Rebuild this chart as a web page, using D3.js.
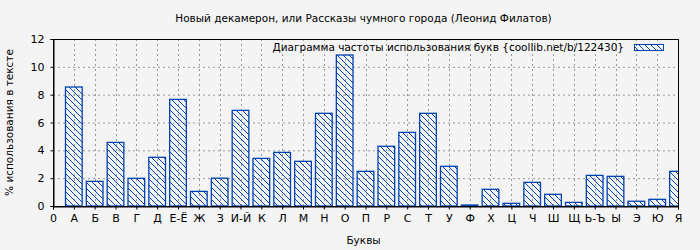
<!DOCTYPE html>
<html><head><meta charset="utf-8">
<script src="https://cdn.jsdelivr.net/npm/d3@7"></script>
<style>body{margin:0;background:#f4f4f4}svg{display:block}</style>
</head><body>
<script>
const categories = ["0","А","Б","В","Г","Д","Е-Ё","Ж","З","И-Й","К","Л","М","Н","О","П","Р","С","Т","У","Ф","Х","Ц","Ч","Ш","Щ","Ь-Ъ","Ы","Э","Ю","Я"];
const values = [0,8.55,1.77,4.57,1.99,3.5,7.66,1.05,2.0,6.87,3.42,3.85,3.21,6.66,10.85,2.49,4.29,5.29,6.66,2.85,0.07,1.2,0.19,1.7,0.84,0.26,2.2,2.13,0.34,0.48,2.49];
const yTicks = [0,2,4,6,8,10,12];
const title = "Новый декамерон, или Рассказы чумного города (Леонид Филатов)";
const legendLabel = "Диаграмма частоты использования букв {coollib.net/b/122430}";
const xLabel = "Буквы";
const yLabel = "% использования в тексте";

const W=700,H=250, L=53, R=678, T=39, B=206;
const blue="#0042b0";
const font="DejaVu Sans, sans-serif";
const fs=10.5;
const svg=d3.select("body").append("svg").attr("width",W).attr("height",H);
svg.append("rect").attr("width",W).attr("height",H).attr("fill","#f4f4f4");
const defs=svg.append("defs");
const pat=defs.append("pattern").attr("id","hatch").attr("patternUnits","userSpaceOnUse")
 .attr("width",6).attr("height",6);
pat.append("path").attr("d","M-1,-1 L7,7 M-1,5 L1,7 M5,-1 L7,1").attr("stroke",blue).attr("stroke-width",1);
defs.append("clipPath").attr("id","clip").append("rect").attr("x",L).attr("y",T).attr("width",R-L).attr("height",B-T);

const x=d3.scaleLinear().domain([0,categories.length-1]).range([L,R]);
const y=d3.scaleLinear().domain([0,12]).range([B,T]);
const bw=(x(1)-x(0))*0.8;

// grid
const g=svg.append("g");
g.selectAll(".hg").data(yTicks.filter(v=>v>0&&v<12)).join("line")
 .attr("x1",L).attr("x2",R).attr("y1",d=>y(d)+0.5).attr("y2",d=>y(d)+0.5)
 .attr("stroke","#999").attr("stroke-dasharray","2,3");
g.selectAll(".vg").data(d3.range(1,categories.length-1)).join("line")
 .attr("x1",d=>Math.round(x(d))+0.5).attr("x2",d=>Math.round(x(d))+0.5).attr("y1",T).attr("y2",B)
 .attr("stroke","#999").attr("stroke-dasharray","2,3");

// bars
svg.append("g").attr("clip-path","url(#clip)").selectAll("rect").data(values.map((v,i)=>({v,i})).filter(d=>d.i>0)).join("rect")
 .attr("x",d=>x(d.i)-bw/2).attr("width",bw)
 .attr("y",d=>y(d.v)).attr("height",d=>Math.max(0,y(0)-y(d.v)))
 .attr("fill","url(#hatch)").attr("stroke",blue).attr("stroke-width",1.3);

// frame
svg.append("rect").attr("x",L+0.5).attr("y",T+0.5).attr("width",R-L).attr("height",B-T)
 .attr("fill","none").attr("stroke","#000").attr("stroke-width",1);

// axes
const xa=d3.axisBottom(x).tickValues(d3.range(categories.length)).tickFormat(i=>categories[i]).tickSize(3).tickPadding(5);
const xg=svg.append("g").attr("transform",`translate(0,${B+0.5})`).call(xa);
const ya=d3.axisLeft(y).tickValues(yTicks).tickSize(3).tickPadding(6);
const yg=svg.append("g").attr("transform",`translate(${L+0.5},0)`).call(ya);
[xg,yg].forEach(a=>{a.select(".domain").attr("stroke","#000");a.selectAll("text").attr("font-family",font).attr("font-size",11).attr("fill","#000");});

// titles
svg.append("text").attr("x",(L+R)/2-2).attr("y",22).attr("text-anchor","middle")
 .attr("font-family",font).attr("font-size",fs).text(title);
svg.append("text").attr("x",(L+R)/2-2).attr("y",244).attr("text-anchor","middle")
 .attr("font-family",font).attr("font-size",fs).text(xLabel);
svg.append("text").attr("transform",`translate(13,${(T+B)/2}) rotate(-90)`).attr("text-anchor","middle")
 .attr("font-family",font).attr("font-size",fs).text(yLabel);

// legend
svg.append("text").attr("x",624).attr("y",51).attr("text-anchor","end")
 .attr("font-family",font).attr("font-size",fs).text(legendLabel);
svg.append("rect").attr("x",634.5).attr("y",44.5).attr("width",29).attr("height",6)
 .attr("fill","url(#hatch)").attr("stroke",blue).attr("stroke-width",1);
</script>
</body></html>
